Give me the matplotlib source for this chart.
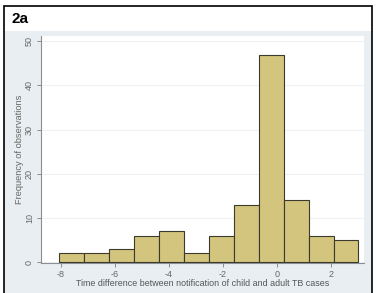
import matplotlib.pyplot as plt
import numpy as np
from matplotlib.patches import Rectangle

# histogram data
bin_start = -8.05
bin_width = 0.923
counts = [2, 2, 3, 6, 7, 2, 6, 13, 47, 14, 6, 5]
x_ticks = [-8, -6, -4, -2, 0, 2]
y_ticks = [0, 10, 20, 30, 40, 50]

plt.rcParams['font.family'] = ['Liberation Sans', 'DejaVu Sans']


def main():
    fig = plt.figure(figsize=(3.77, 2.93), dpi=100)
    fig.patch.set_facecolor('white')

    # grey panel behind the plot and the outer black frame
    fig.patches.append(Rectangle((4 / 377, 0), 368 / 377, 1 - 31 / 293,
                                 transform=fig.transFigure, facecolor='#e8eef1',
                                 edgecolor='none', zorder=-2))
    fig.patches.append(Rectangle((4 / 377, -0.05), 368 / 377, 1 - 6 / 293 + 0.05,
                                 transform=fig.transFigure, facecolor='none',
                                 edgecolor='black', lw=1.2, zorder=5))
    fig.text(12 / 377, 1 - 19 / 293, '2a', fontsize=11, fontweight='bold',
             va='center', ha='left')

    ax = fig.add_axes([41 / 377, 1 - 263 / 293, 323 / 377, 227 / 293])
    ax.set_zorder(1)
    ax.set_facecolor('white')

    edges = bin_start + bin_width * np.arange(len(counts))
    ax.bar(edges, counts, width=bin_width, align='edge', color='#d3c47e',
           edgecolor='#3c3a2c', linewidth=0.8, zorder=3)

    ax.set_xlim(-8.73, 3.23)
    ax.set_ylim(-0.2, 51.2)
    ax.set_xticks(x_ticks)
    ax.set_yticks(y_ticks)
    ax.set_xticklabels([str(t) for t in x_ticks])
    ax.set_yticklabels([str(t) for t in y_ticks], rotation=90, va='center')
    ax.yaxis.grid(True, color='#edf1f4', lw=0.8, zorder=0)

    for side in ['top', 'right']:
        ax.spines[side].set_visible(False)
    for side in ['left', 'bottom']:
        ax.spines[side].set_color('#8a8f94')
        ax.spines[side].set_linewidth(0.8)
    ax.tick_params(colors='#8a8f94', labelcolor='#666666', labelsize=6.5,
                   length=3, width=0.7, pad=2)

    ax.set_xlabel('Time difference between notification of child and adult TB cases',
                  fontsize=6.4, color='#555555', labelpad=0)
    ax.set_ylabel('Frequency of observations', fontsize=6.7, color='#666666', labelpad=0.5)

    fig.savefig('out.png', dpi=100)


if __name__ == '__main__':
    main()
